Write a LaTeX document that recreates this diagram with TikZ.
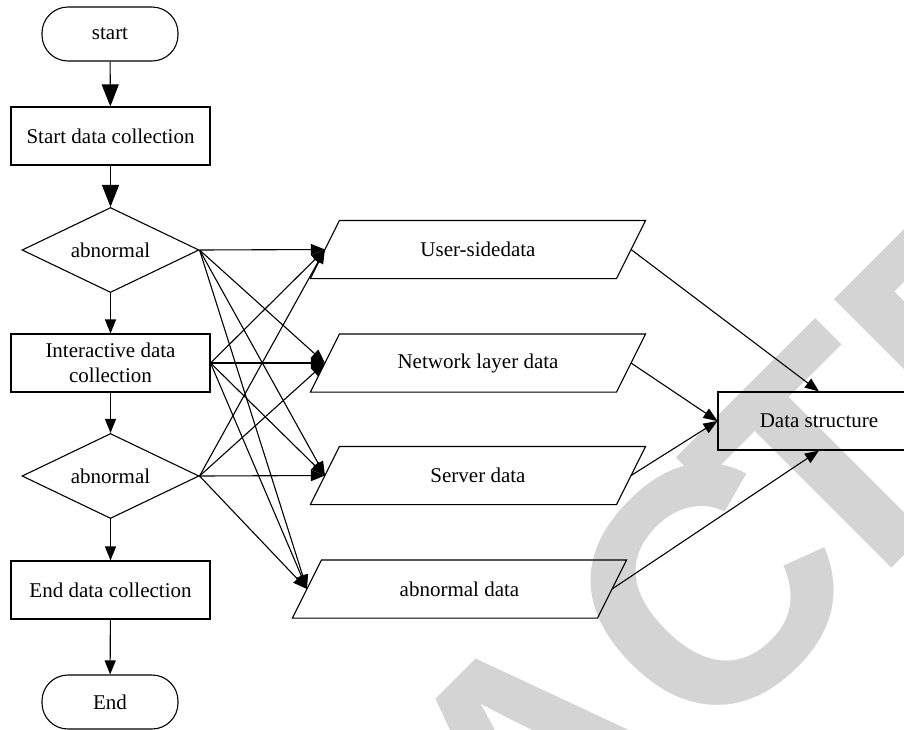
\documentclass[tikz,border=0pt]{standalone}
\usepackage{fontspec}
\setmainfont{Liberation Serif}
\newfontfamily\wmfont{Liberation Sans}
\usetikzlibrary{shapes.geometric,arrows.meta}
\definecolor{wmgray}{RGB}{212,212,212}
\begin{document}
\begin{tikzpicture}[x=1pt,y=-1pt,
  base/.style={draw=black, line width=1.1pt, font=\fontsize{21}{25}\selectfont, inner sep=0pt},
  term/.style={base, rectangle, rounded corners=26pt, minimum width=136pt, minimum height=54pt},
  proc/.style={base, rectangle, minimum width=199pt, minimum height=58pt, align=center},
  decision/.style={base, diamond, minimum width=177pt, minimum height=85pt, aspect=2.08},
  % body of a data parallelogram; its slanted outline is drawn afterwards
  iodata/.style={base, draw=none, rectangle, minimum height=57pt},
  conn/.style={line width=1.1pt},
  bigtip/.style={conn, -{Triangle[length=22pt,width=17pt]}},
  tip/.style={conn, -{Triangle[length=14pt,width=11pt]}}
]
\useasboundingbox (0,0) rectangle (904,729);
\clip (0,0) rectangle (904,729);

% watermark
\node[rotate=45, text=wmgray, inner sep=0pt,
      font=\wmfont\bfseries\fontsize{335}{335}\selectfont] (wm) at (518,779) {RETRAC\kern-54pt TED};

% main column
\node[term]     (start) at (110,34)  {start};
\node[proc]     (s1)    at (110.5,136) {Start data collection};
\node[decision] (d1)    at (110.5,250) {abnormal};
\node[proc]     (inter) at (110.5,363) {Interactive data\\collection};
\node[decision] (d2)    at (110.5,476) {abnormal};
\node[proc]     (e1)    at (110.5,590) {End data collection};
\node[term]     (end)   at (110,702) {End};

% data sources
\node[iodata, minimum width=305pt] (usr) at (478,249.5) {User-sidedata};
\node[iodata, minimum width=305pt] (net) at (478,363)   {Network layer data};
\node[iodata, minimum width=305pt] (srv) at (478,475.5) {Server data};
\node[iodata, minimum width=304pt] (abn) at (459.5,589) {abnormal data};
\foreach \n in {usr,net,srv,abn}
  \draw[conn] ([xshift=-14.5pt]\n.south west) -- ([xshift=14.5pt]\n.north west)
     -- ([xshift=14.5pt]\n.north east) -- ([xshift=-14.5pt]\n.south east) -- cycle;

% target
\node[base, rectangle, minimum width=202pt, minimum height=58pt] (ds) at (819,421) {Data structure};

% flow of the main column
\draw[bigtip] (start) -- (s1);
\draw[bigtip] (s1) -- (d1);
\draw[tip] (d1) -- (inter);
\draw[tip] (inter) -- (d2);
\draw[tip] (d2) -- (e1);
\draw[tip] (e1) -- (end);

% every stage feeds every data source
\foreach \s in {d1,inter,d2}
  \foreach \t in {usr,net,srv,abn}
    \draw[tip] (\s.east) -- (\t.west);

% sources into the data structure
\draw[tip] (usr.east) -- (ds.north);
\draw[tip] (net.east) -- (ds.west);
\draw[tip] (srv.east) -- (ds.west);
\draw[tip] (abn.east) -- (ds.south);
\end{tikzpicture}
\end{document}
